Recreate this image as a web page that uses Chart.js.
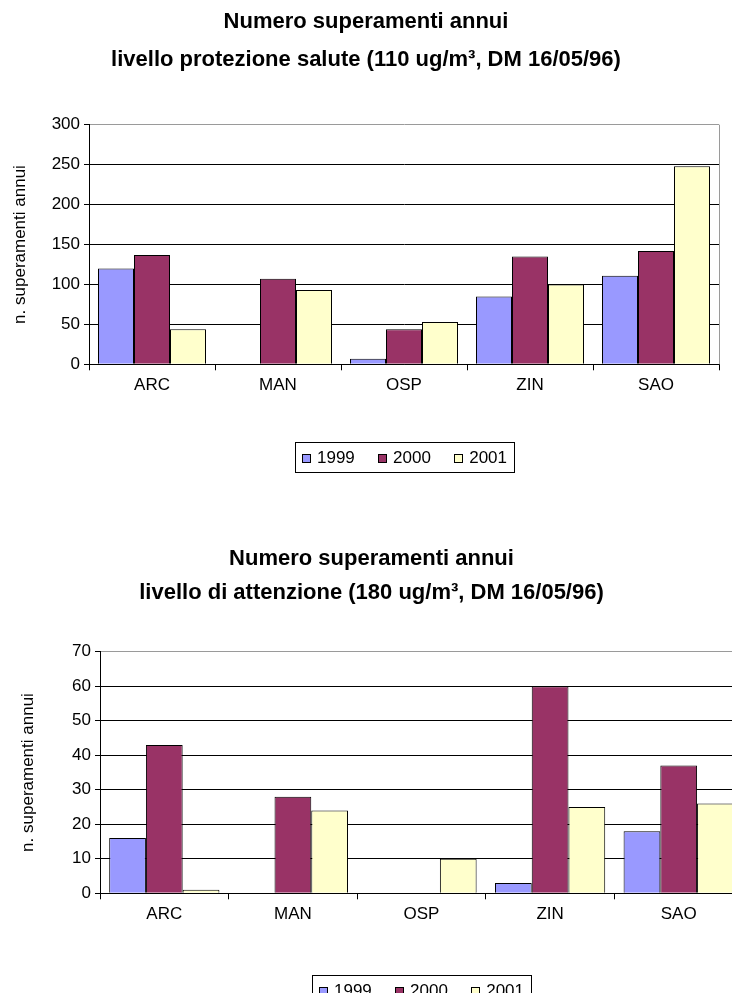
<!DOCTYPE html>
<html>
<head>
<meta charset="utf-8">
<title>Numero superamenti annui</title>
<script src="https://cdn.jsdelivr.net/npm/chart.js@4/dist/chart.umd.min.js"></script>
<style>
  html, body { margin: 0; padding: 0; background: #fff; }
  body { width: 732px; height: 993px; overflow: hidden; position: relative; }
  .panel { position: absolute; left: 0; }
  #p1 { top: 0; width: 732px; height: 490px; }
  #p2 { top: 527px; width: 760px; height: 480px; }
</style>
</head>
<body>
<div class="panel" id="p1"><canvas id="c1"></canvas></div>
<div class="panel" id="p2"><canvas id="c2"></canvas></div>
<script>
// Stations and years
const stations = ['ARC', 'MAN', 'OSP', 'ZIN', 'SAO'];
const years = ['1999', '2000', '2001'];

// Annual exceedances of the health-protection level (110 ug/m3)
const prot1999 = [120, 0, 7, 85, 111];
const prot2000 = [137, 107, 44, 135, 142];
const prot2001 = [44, 93, 53, 100, 248];
const protTicks = [0, 50, 100, 150, 200, 250, 300];

// Annual exceedances of the attention level (180 ug/m3)
const att1999 = [16, 0, 0, 3, 18];
const att2000 = [43, 28, 0, 60, 37];
const att2001 = [1, 24, 10, 25, 26];
const attTicks = [0, 10, 20, 30, 40, 50, 60, 70];

const yearColors = ['#9999FF', '#993366', '#FFFFCC'];
const FONT = '"Liberation Sans", Arial, Helvetica, sans-serif';

Chart.defaults.font.family = FONT;
Chart.defaults.color = '#000';

// Grey frame on the right side of the plot area
const plotFrame = {
  id: 'plotFrame',
  afterDraw(chart) {
    const { ctx, chartArea: a } = chart;
    ctx.save();
    ctx.strokeStyle = '#9a9a9a';
    ctx.lineWidth = 1;
    ctx.beginPath();
    ctx.moveTo(Math.round(a.right) + 0.5, a.top);
    ctx.lineTo(Math.round(a.right) + 0.5, a.bottom);
    ctx.stroke();
    ctx.restore();
  }
};

// Boxed legend centred under the plot area
const boxLegend = {
  id: 'boxLegend',
  afterDraw(chart, args, opts) {
    const { ctx, chartArea: a } = chart;
    ctx.save();
    ctx.font = opts.fontSize + 'px ' + FONT;
    ctx.textBaseline = 'middle';
    const items = chart.data.datasets.map(d => ({
      label: d.label, color: d.backgroundColor, w: ctx.measureText(d.label).width
    }));
    const sq = 9, gapSq = 6, pad = opts.pad;
    const boxW = opts.width, boxH = opts.height;
    const itemsW = items.reduce((s, it) => s + sq + gapSq + it.w, 0);
    const gapItem = (boxW - 2 * pad - itemsW) / (items.length - 1);
    const left = Math.round((a.left + a.right) / 2 - boxW / 2);
    const top = Math.round(a.bottom + opts.offset);
    ctx.strokeStyle = '#000';
    ctx.lineWidth = 1;
    ctx.strokeRect(left + 0.5, top + 0.5, boxW, boxH);
    let x = left + pad;
    const cy = top + boxH / 2 + 1;
    items.forEach(it => {
      const sy = Math.round(cy - sq / 2);
      ctx.fillStyle = it.color;
      ctx.fillRect(Math.round(x) + 0.5, sy + 0.5, sq - 1, sq - 1);
      ctx.strokeRect(Math.round(x) + 0.5, sy + 0.5, sq - 1, sq - 1);
      x += sq + gapSq;
      ctx.fillStyle = '#000';
      ctx.fillText(it.label, x, cy);
      x += it.w + gapItem;
    });
    ctx.restore();
  }
};

function makeChart(canvasId, cfg) {
  const series = cfg.series;
  return new Chart(document.getElementById(canvasId), {
    type: 'bar',
    data: {
      labels: stations,
      datasets: years.map((y, i) => ({
        label: y,
        data: series[i],
        backgroundColor: yearColors[i],
        borderColor: '#000',
        borderWidth: 1,
        barPercentage: 1,
        categoryPercentage: 3 / 3.5
      }))
    },
    options: {
      responsive: true,
      maintainAspectRatio: false,
      animation: false,
      events: [],
      layout: { padding: { left: cfg.padLeft, right: cfg.padRight, top: 0, bottom: cfg.padBottom } },
      plugins: {
        legend: { display: false },
        tooltip: { enabled: false },
        title: {
          display: true,
          text: cfg.title,
          color: '#000',
          font: { size: 22, weight: 'bold', lineHeight: cfg.titleLine },
          padding: { top: cfg.titleTop, bottom: cfg.titleBottom }
        },
        boxLegend: { offset: cfg.legendOffset, height: 30, pad: 7, width: 219, fontSize: 17 }
      },
      scales: {
        x: {
          grid: { display: true, drawOnChartArea: false, drawTicks: true, tickLength: 6, color: '#000', offset: true },
          border: { color: '#000', width: 1 },
          ticks: { color: '#000', font: { size: 17 }, padding: 5, maxRotation: 0 },
          afterFit(s) { s.height = 30; }
        },
        y: {
          min: cfg.ticks[0],
          max: cfg.ticks[cfg.ticks.length - 1],
          afterBuildTicks(s) { s.ticks = cfg.ticks.map(v => ({ value: v })); },
          ticks: { color: '#000', font: { size: 17 }, padding: 4 },
          grid: {
            color: c => (c.tick && c.tick.value === cfg.ticks[cfg.ticks.length - 1]) ? '#9a9a9a' : '#000',
            tickColor: '#000',
            tickLength: 5,
            lineWidth: 1
          },
          border: { color: '#000', width: 1 },
          title: {
            display: true,
            text: 'n. superamenti annui',
            color: '#000',
            font: { size: 17 },
            padding: { top: cfg.yTitlePad, bottom: 0 }
          },
          afterFit(s) { s.width = cfg.yWidth; }
        }
      }
    },
    plugins: [plotFrame, boxLegend]
  });
}

makeChart('c1', {
  series: [prot1999, prot2000, prot2001],
  ticks: protTicks,
  title: ['Numero superamenti annui', 'livello protezione salute (110 ug/m³, DM 16/05/96)'],
  titleLine: '38px', titleTop: 3, titleBottom: 45.7,
  padLeft: 13, yWidth: 76, yTitlePad: -3,
  padRight: 13, padBottom: 95.7,
  legendOffset: 78
});

makeChart('c2', {
  series: [att1999, att2000, att2001],
  ticks: attTicks,
  title: ['Numero superamenti annui', 'livello di attenzione (180 ug/m³, DM 16/05/96)'],
  titleLine: '34px', titleTop: 15, titleBottom: 41.7,
  padLeft: 0, yWidth: 100, yTitlePad: 18,
  padRight: 17, padBottom: 83.7,
  legendOffset: 82
});
</script>
</body>
</html>
